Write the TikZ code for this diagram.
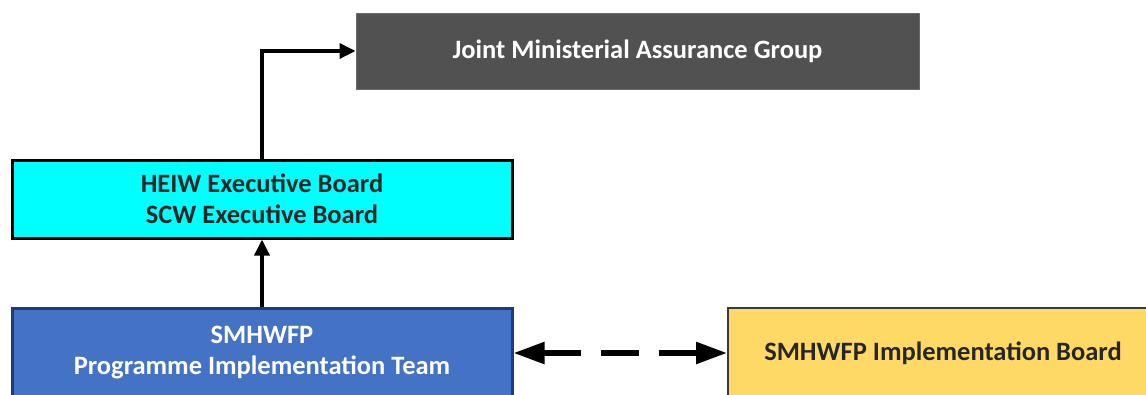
\documentclass[tikz,border=0pt]{standalone}
\usepackage{fontspec}
\setmainfont{Carlito}
\usetikzlibrary{arrows.meta}
\definecolor{jmaggray}{HTML}{515151}
\definecolor{jmagedge}{HTML}{6A6A6A}
\definecolor{teamblue}{HTML}{4472C4}
\definecolor{teamedge}{HTML}{1F3A78}
\definecolor{boardyellow}{HTML}{FFD966}
\definecolor{boardedge}{HTML}{3A3A3A}
\definecolor{heiwcyan}{HTML}{00FFFF}
\tikzset{
  box/.style={rectangle, inner sep=0pt, align=center, font=\fontsize{26.5}{31}\selectfont\bfseries},
  conn/.style={line width=3.5pt, -{Triangle[length=16pt,width=15pt]}},
  dconn/.style={line width=5.5pt, {Triangle[length=31pt,width=21pt]}-{Triangle[length=31pt,width=21pt]}, dash pattern=on 38pt off 20pt}
}
\begin{document}
\begin{tikzpicture}[x=1pt,y=1pt]
\clip (0,0) rectangle (1146,-394);
\fill[white] (0,0) rectangle (1146,-394);
\node[box, fill=jmaggray, draw=jmagedge, line width=1pt, text=white, minimum width=563pt, minimum height=76pt] (jmag) at (637.5,-51) {Joint Ministerial Assurance Group};
\node[box, fill=heiwcyan, draw=black, line width=3pt, text=black!85, minimum width=500pt, minimum height=78pt] (heiw) at (262,-199) {HEIW Executive Board\\SCW Executive Board};
\node[box, fill=teamblue, draw=teamedge, line width=3pt, text=white, minimum width=500pt, minimum height=90pt] (team) at (262,-353) {SMHWFP\\Programme Implementation Team};
\node[box, fill=boardyellow, draw=boardedge, line width=2pt, text=black!85, minimum width=430pt, minimum height=90pt] (impl) at (943,-353) {SMHWFP Implementation Board};
\draw[conn] (heiw.north) |- (jmag.west);
\draw[conn] (team.north) -- (heiw.south);
\draw[dconn] (team.east) -- (impl.west);
\end{tikzpicture}
\end{document}
